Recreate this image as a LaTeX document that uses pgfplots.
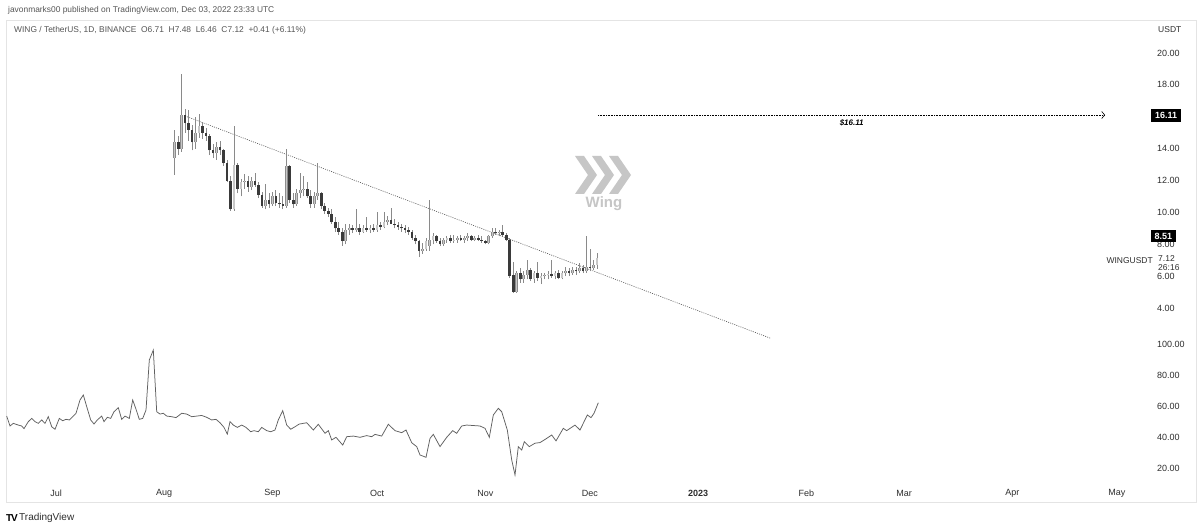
\documentclass[border=0pt]{standalone}
\usepackage{fontspec}
\setmainfont{Liberation Sans}
\usepackage{pgfplots}
\usepackage{pgfplotstable}
\pgfplotsset{compat=1.18}
\usetikzlibrary{arrows.meta}

\definecolor{wickc}{HTML}{8A8A8A}
\definecolor{upfill}{HTML}{C8C8C8}
\definecolor{upedge}{HTML}{8C8C8C}
\definecolor{downc}{HTML}{3A3A3A}
\definecolor{txt}{HTML}{2E2E2E}
\definecolor{hdr}{HTML}{555555}
\definecolor{framec}{HTML}{E4E4E4}
\definecolor{logoc}{HTML}{C6C6C6}
\definecolor{indc}{HTML}{606060}

\pgfplotstableread{
d o h l c
34 13.4 15.2 12.35 14.4
35 14.4 14.8 13.6 14.0
36 14.0 18.7 13.8 16.1
37 16.1 16.5 15.0 15.6
38 15.6 16.4 14.5 15.2
39 15.2 15.5 13.9 14.4
40 14.4 16.0 14.0 15.0
41 15.0 16.2 14.7 15.4
42 15.4 15.7 14.6 15.0
43 15.0 15.3 14.5 14.8
44 14.8 14.9 13.6 13.9
45 13.9 14.3 13.4 13.7
46 13.7 14.4 13.3 14.1
47 14.1 14.5 13.6 13.9
48 13.9 14.0 12.9 13.1
49 13.1 13.3 11.9 12.0
50 12.0 12.3 10.1 10.2
51 10.2 15.4 10.1 13.0
52 13.0 13.1 11.2 11.5
53 11.5 12.1 11.0 11.9
54 11.9 12.4 11.5 12.0
55 12.0 12.3 11.3 11.6
56 11.6 12.2 11.4 12.0
57 12.0 12.5 11.6 11.7
58 11.7 11.9 10.9 11.1
59 11.1 11.3 10.3 10.4
60 10.4 11.8 10.2 10.8
61 10.8 11.2 10.3 10.5
62 10.5 11.3 10.4 11.0
63 11.0 11.4 10.4 10.6
64 10.6 11.2 10.3 10.5
65 10.5 11.0 10.2 10.4
66 10.4 14.0 10.3 12.9
67 12.9 13.0 10.6 10.8
68 10.8 11.2 10.3 10.5
69 10.5 11.5 10.4 11.2
70 11.2 12.5 10.9 11.4
71 11.4 12.3 11.0 11.5
72 11.5 11.9 10.9 11.0
73 11.0 11.4 10.3 10.5
74 10.5 11.3 10.3 11.0
75 11.0 13.1 10.8 11.2
76 11.2 11.3 10.2 10.4
77 10.4 10.6 9.9 10.1
78 10.1 10.3 9.7 9.9
79 9.9 10.2 9.3 9.4
80 9.4 9.7 8.8 9.0
81 9.0 9.4 8.6 8.8
82 8.8 9.0 7.9 8.2
83 8.2 9.3 8.0 8.9
84 8.9 9.3 8.6 9.0
85 9.0 9.2 8.7 8.9
86 8.9 10.2 8.8 9.0
87 9.0 9.3 8.6 8.8
88 8.8 9.2 8.7 9.0
89 9.0 9.7 8.8 8.9
90 8.9 9.2 8.7 9.0
91 9.0 9.3 8.8 8.9
92 8.9 10.0 8.8 9.2
93 9.2 9.4 8.9 9.1
94 9.1 10.0 9.0 9.4
95 9.4 9.8 9.2 9.5
96 9.5 10.3 9.3 9.3
97 9.3 9.6 9.0 9.2
98 9.2 9.4 8.9 9.1
99 9.1 9.3 8.8 9.0
100 9.0 9.2 8.7 8.9
101 8.9 9.1 8.6 8.8
102 8.8 8.9 8.3 8.4
103 8.4 8.6 8.0 8.2
104 8.2 8.3 7.2 7.6
105 7.6 8.1 7.4 7.7
106 7.7 8.4 7.6 8.2
107 7.9 10.8 7.6 8.3
108 8.3 8.7 8.0 8.5
109 8.5 8.6 8.1 8.2
110 8.2 8.4 7.9 8.0
111 8.0 8.4 7.9 8.3
112 8.3 8.5 8.1 8.4
113 8.4 8.6 8.1 8.2
114 8.2 8.6 8.1 8.3
115 8.3 8.5 8.1 8.4
116 8.4 8.6 8.2 8.3
117 8.3 8.5 8.1 8.4
118 8.4 8.7 8.2 8.5
119 8.5 8.6 8.2 8.3
120 8.3 8.5 8.2 8.4
121 8.4 8.6 8.2 8.3
122 8.3 8.5 8.1 8.2
123 8.2 8.3 8.0 8.1
124 8.1 8.6 8.0 8.5
125 8.5 9.0 8.4 8.8
126 8.8 9.0 8.6 8.7
127 8.7 8.9 8.5 8.8
128 8.8 9.2 8.5 8.6
129 8.6 8.7 8.2 8.3
130 8.3 8.4 5.9 6.0
131 6.1 6.9 4.95 5.0
132 5.0 6.3 4.95 6.2
133 6.2 6.5 5.6 5.8
134 5.8 6.3 5.6 6.1
135 6.1 7.0 5.8 6.4
136 6.4 6.5 5.7 5.8
137 5.8 6.3 5.6 6.2
138 6.2 6.9 5.7 5.9
139 5.9 6.2 5.5 6.0
140 6.0 6.2 5.8 6.05
141 6.05 6.3 5.8 6.15
142 6.15 7.0 5.9 6.0
143 6.0 6.3 5.8 6.2
144 6.2 6.4 5.8 5.9
145 5.9 6.3 5.8 6.2
146 6.2 6.6 6.0 6.3
147 6.3 6.5 6.0 6.2
148 6.2 6.6 6.1 6.4
149 6.4 6.6 6.1 6.3
150 6.3 6.8 6.2 6.5
151 6.5 6.7 6.2 6.3
152 6.3 8.51 6.2 6.6
153 6.6 7.7 6.3 6.5
154 6.5 7.0 6.4 6.7
155 6.71 7.48 6.46 7.12
}\candles

\pgfplotstableread{
px v
6.7 53.5
10 47.1
13.3 48.8
18.3 47.7
21.7 47.1
24 45.4
28.3 49.9
31.7 52.0
35 49.9
38.3 48.8
41.7 51.0
45 48.8
48.3 53.1
51.7 46.6
55 45.0
59.3 52.0
62.7 50.5
66 51.4
69.3 51.0
72.7 53.1
76 55.3
80 63.9
83.3 67.1
86.7 59.6
90.7 51.0
94 48.4
97.3 51.0
101.7 53.5
104 49.9
107.3 52.7
110.7 52.0
114 56.3
118.3 58.9
121.7 51.4
125 53.5
129.3 52.0
132.7 63.9
136 57.9
139.3 51.4
142.7 52.0
146 57.4
149.3 89.7
153.3 96.1
156.7 56.3
160 54.8
163.3 55.3
166.7 53.5
171.7 53.1
176 52.5
181.7 55.3
186.7 54.8
191.7 53.1
196.7 53.5
201.7 53.9
206.7 52.7
211.7 51.0
216 51.4
220 49.2
224 46.2
227.3 41.9
230 49.9
233.3 47.7
237.3 46.2
241.7 47.7
246 46.2
250.7 43.4
254 44.1
258.3 43.4
261.7 46.2
266.7 44.1
270.7 43.4
275 44.5
278.3 51.0
282.7 57.0
286.7 47.7
290.7 45.0
295 46.6
299 48.3
306.7 49.2
313.3 44.5
318.3 48.2
325 42.4
328.3 44.1
331.7 38.1
336 39.8
342.7 34.8
346.7 40.2
353.3 40.6
360 39.8
366.7 40.9
371.7 40.2
375 41.7
381.7 40.6
388.3 48.2
395 44.1
401.7 42.8
406 44.5
411.7 36.3
416.7 33.8
420 28.4
426 26.9
430 39.1
433.3 41.7
440 33.8
446.7 39.8
452.7 44.1
456.7 42.4
461.7 47.1
466.7 47.7
480 47.1
485 45.6
489.3 39.8
493.3 54.2
498.3 58.5
501.7 56.3
507.3 44.5
511.7 25.2
515 15.5
518.3 33.8
521.7 31.6
524.3 37.0
529.3 33.8
535 36.0
540 36.4
546.7 39.1
551.7 41.3
556 37.5
563.3 45.6
566.7 44.1
575 47.7
580 44.5
587.3 54.2
591 52.5
594 55.3
598.3 62.1
}\indic

\pgfplotsset{
  tvaxis/.style={
    scale only axis, anchor=south west, width=1144pt,
    xmin=-14.33, xmax=313.47,
    axis line style={draw=none}, major tick length=0pt,
    yticklabel pos=right,
    yticklabel style={anchor=west, xshift=7pt, inner sep=0pt, text=txt,
      font=\fontsize{9}{11}\selectfont},
    /pgf/number format/fixed, /pgf/number format/fixed zerofill,
    /pgf/number format/precision=2, /pgf/number format/assume math mode=true,
  },
  candle/.style={draw=none, mark=none, forget plot,
    error bars/y dir=plus, error bars/y explicit, error bars/error mark=none,
    error bars/error bar style={draw=#1}},
}

\begin{document}
\begin{tikzpicture}[x=1pt,y=1pt]
\path[fill=white] (0,0) rectangle (1200,530);
\draw[framec, line width=0.8pt] (6,28) rectangle (1196,510);

% header
\node[anchor=west, inner sep=0pt, text=hdr, font=\fontsize{8.4}{10}\selectfont] at (8,520)
  {javonmarks00 published on TradingView.com, Dec 03, 2022 23:33 UTC};
\node[anchor=west, inner sep=0pt, text=hdr, font=\fontsize{8.4}{10}\selectfont] at (14,500)
  {WING / TetherUS, 1D, BINANCE\ \ O6.71\ \ H7.48\ \ L6.46\ \ C7.12\ \ +0.41 (+6.11\%)};
\node[anchor=west, inner sep=0pt, text=txt, font=\fontsize{8.5}{10}\selectfont] at (1158,500) {USDT};

% Wing logo
\foreach \xx in {575,592,609} {
  \fill[logoc] (\xx,374) -- (\xx+9,374) -- (\xx+22,355) -- (\xx+9,336) -- (\xx,336) -- (\xx+13,355) -- cycle;
}
\node[text=logoc, font=\bfseries\fontsize{15}{17}\selectfont] at (604,326) {Wing};

% price pane
\begin{axis}[tvaxis, at={(6pt,190pt)}, height=320pt,
  ymin=2.0, ymax=22.07, xtick=\empty, ytick={4,6,8,10,12,14,18,20}]
  % trend line
  \addplot[color=hdr, line width=0.6pt, dash pattern=on 1pt off 1.2pt] coordinates {(37,16.05) (204.6,2.12)};
  % wicks
  \addplot[candle=wickc, error bars/error bar style={line width=0.8pt}]
    table[x=d, y=l, y error plus expr=\thisrow{h}-\thisrow{l}] {\candles};
  % up bodies
  \addplot[candle=upedge, error bars/error bar style={line width=2.7pt},
    restrict expr to domain={\thisrow{c}-\thisrow{o}}{0:100}]
    table[x=d, y=o, y error plus expr=\thisrow{c}-\thisrow{o}] {\candles};
  \addplot[candle=upfill, error bars/error bar style={line width=1.3pt},
    restrict expr to domain={\thisrow{c}-\thisrow{o}}{0:100}]
    table[x=d, y=o, y error plus expr=\thisrow{c}-\thisrow{o}] {\candles};
  % down bodies
  \addplot[candle=downc, error bars/error bar style={line width=2.7pt},
    restrict expr to domain={\thisrow{c}-\thisrow{o}}{-100:-0.0001}]
    table[x=d, y=c, y error plus expr=\thisrow{o}-\thisrow{c}] {\candles};
  % target line
  \addplot[color=black, line width=0.6pt, dash pattern=on 0.8pt off 0.8pt,
    -{Straight Barb[length=3pt,width=7pt]}] coordinates {(155.3,16.11) (300.6,16.11)};
  \node[font=\bfseries\itshape\fontsize{8}{10}\selectfont, anchor=north, inner sep=0pt]
    at (axis cs:228,15.85) {\$16.11};
\end{axis}

% indicator pane
\begin{axis}[tvaxis, at={(6pt,50pt)}, height=140pt,
  ymin=12.26, ymax=102.58, ytick={20,40,60,80,100},
  xtick={0,31,62,92,123,153,184,215,243,274,304},
  xticklabels={Jul,Aug,Sep,Oct,Nov,Dec,\textbf{2023},Feb,Mar,Apr,May},
  xticklabel style={anchor=center, yshift=-13pt, text=txt, font=\fontsize{9}{11}\selectfont}]
  \addplot[color=indc, line width=0.75pt] table[x expr=(\thisrow{px}-56)/3.49, y=v] {\indic};
\end{axis}

% price scale labels
\node[fill=black, text=white, anchor=west, inner xsep=4pt, inner ysep=3pt,
  font=\bfseries\fontsize{9}{10}\selectfont] at (1151,414.5) {16.11};
\node[fill=black, text=white, anchor=west, inner xsep=3.5pt, inner ysep=2.5pt,
  font=\bfseries\fontsize{9}{10}\selectfont] at (1151,294) {8.51};
\node[fill=white, text=txt, anchor=west, inner xsep=5pt, inner ysep=1pt, align=left,
  font=\fontsize{8.5}{10}\selectfont] at (1153,267) {7.12\\[-1pt]26:16};
\node[text=txt, anchor=east, inner sep=0pt, font=\fontsize{8.5}{10}\selectfont] at (1153,269) {WINGUSDT};

% footer
\node[anchor=west, inner sep=0pt, font=\bfseries\fontsize{10}{12}\selectfont] at (6,12) {T\kern-1.2pt V};
\node[anchor=west, inner sep=0pt, text=txt, font=\fontsize{10}{12}\selectfont] at (19,12) {TradingView};
\end{tikzpicture}
\end{document}
